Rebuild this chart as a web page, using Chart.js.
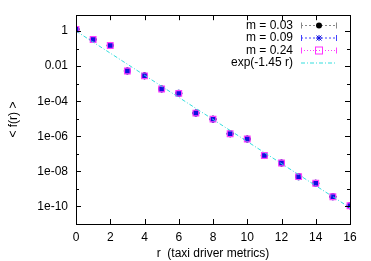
<!DOCTYPE html>
<html>
<head>
<meta charset="utf-8">
<script src="https://cdn.jsdelivr.net/npm/chart.js@4/dist/chart.umd.min.js"></script>
<style>
  body { margin: 0; background: #fff; }
  #plot { display: block; }
</style>
</head>
<body>
<canvas id="plot" width="371" height="261"></canvas>
<script>
// values
const rValues = [0, 1, 2, 3, 4, 5, 6, 7, 8, 9, 10, 11, 12, 13, 14, 15, 16];
const fM003 = [1.25, 0.33, 0.15, 0.0053, 0.0028, 5.0e-4, 2.8e-4, 2.1e-5, 9.5e-6, 1.4e-6, 7.0e-7, 8.0e-8, 3.0e-8, 5.0e-9, 2.1e-9, 3.6e-10, 1.1e-10];
const fM009 = [1.25, 0.33, 0.15, 0.0053, 0.0028, 5.0e-4, 2.8e-4, 2.1e-5, 9.5e-6, 1.4e-6, 7.0e-7, 8.0e-8, 3.0e-8, 5.0e-9, 2.1e-9, 3.6e-10, 1.1e-10];
const fM024 = [1.25, 0.33, 0.15, 0.0053, 0.0028, 5.0e-4, 2.8e-4, 2.1e-5, 9.5e-6, 1.4e-6, 7.0e-7, 8.0e-8, 3.0e-8, 5.0e-9, 2.1e-9, 3.6e-10, 1.1e-10];
const fitR = [0, 16];
const fitF = [1, 8.4e-11];

const xTicks = [0, 2, 4, 6, 8, 10, 12, 14, 16];
const yTicks = [1, 0.01, 1e-4, 1e-6, 1e-8, 1e-10];
const yTickLabels = ['1', '0.01', '1e-04', '1e-06', '1e-08', '1e-10'];
const yMinorTicks = [0.1, 1e-3, 1e-5, 1e-7, 1e-9];

const FONT = 'Liberation Sans, Arial, sans-serif';

function toPoints(xs, ys) {
  return xs.map((x, i) => ({ x: x, y: ys[i] }));
}

const legendItems = [
  { label: 'm = 0.03', color: '#000000', line: '#888888', dash: [2, 2], marker: 'circle' },
  { label: 'm = 0.09', color: '#1010e0', line: '#4040ff', dash: [2, 2], marker: 'star' },
  { label: 'm = 0.24', color: '#ff30ff', line: '#ff40ff', dash: [1, 2], marker: 'rect' },
  { label: 'exp(-1.45 r)', color: '#33dddd', line: '#33dddd', dash: [4, 2, 1, 2], marker: null }
];

// frame, inward ticks and legend, gnuplot style
const framePlugin = {
  id: 'frame',
  afterDraw(chart) {
    const ctx = chart.ctx;
    const a = chart.chartArea;
    const xs = chart.scales.x;
    const ys = chart.scales.y;
    ctx.save();
    ctx.strokeStyle = '#000';
    ctx.lineWidth = 1;
    ctx.setLineDash([]);
    ctx.strokeRect(Math.round(a.left) + 0.5, Math.round(a.top) + 0.5,
      Math.round(a.right - a.left), Math.round(a.bottom - a.top));

    ctx.beginPath();
    xTicks.forEach(v => {
      const px = Math.round(xs.getPixelForValue(v)) + 0.5;
      ctx.moveTo(px, a.bottom); ctx.lineTo(px, a.bottom - 5);
      ctx.moveTo(px, a.top); ctx.lineTo(px, a.top + 5);
    });
    yTicks.forEach(v => {
      const py = Math.round(ys.getPixelForValue(v)) + 0.5;
      ctx.moveTo(a.left, py); ctx.lineTo(a.left + 5, py);
      ctx.moveTo(a.right, py); ctx.lineTo(a.right - 5, py);
    });
    yMinorTicks.forEach(v => {
      const py = Math.round(ys.getPixelForValue(v)) + 0.5;
      ctx.moveTo(a.left, py); ctx.lineTo(a.left + 3, py);
      ctx.moveTo(a.right, py); ctx.lineTo(a.right - 3, py);
    });
    ctx.stroke();

    // legend
    ctx.font = '12px ' + FONT;
    ctx.textAlign = 'right';
    ctx.textBaseline = 'middle';
    legendItems.forEach((item, i) => {
      const y = 25.5 + i * 12.5;
      const x0 = 301, x1 = 337, xm = 319;
      ctx.fillStyle = '#000';
      ctx.fillText(item.label, 293, y);
      ctx.strokeStyle = item.line;
      ctx.setLineDash(item.dash);
      ctx.beginPath();
      ctx.moveTo(x0, y); ctx.lineTo(x1, y);
      ctx.stroke();
      ctx.setLineDash([]);
      if (item.marker) {
        ctx.beginPath();
        ctx.moveTo(x0 + 0.5, y - 3); ctx.lineTo(x0 + 0.5, y + 3);
        ctx.moveTo(x1 - 0.5, y - 3); ctx.lineTo(x1 - 0.5, y + 3);
        ctx.stroke();
        ctx.strokeStyle = item.color;
        ctx.fillStyle = item.color;
        if (item.marker === 'circle') {
          ctx.beginPath(); ctx.arc(xm, y, 3, 0, Math.PI * 2); ctx.fill();
        } else if (item.marker === 'star') {
          ctx.beginPath();
          ctx.moveTo(xm - 3, y); ctx.lineTo(xm + 3, y);
          ctx.moveTo(xm, y - 3); ctx.lineTo(xm, y + 3);
          ctx.moveTo(xm - 2.5, y - 2.5); ctx.lineTo(xm + 2.5, y + 2.5);
          ctx.moveTo(xm - 2.5, y + 2.5); ctx.lineTo(xm + 2.5, y - 2.5);
          ctx.stroke();
        } else {
          ctx.strokeRect(xm - 3.5, y - 3.5, 7, 7);
        }
      }
    });
    ctx.restore();
  }
};

new Chart(document.getElementById('plot'), {
  type: 'scatter',
  data: {
    datasets: [
      {
        label: 'm = 0.03',
        data: toPoints(rValues, fM003),
        pointStyle: 'circle',
        pointRadius: 3,
        backgroundColor: '#000',
        borderColor: '#000',
        borderWidth: 1,
        showLine: false,
        order: 3
      },
      {
        label: 'm = 0.09',
        data: toPoints(rValues, fM009),
        pointStyle: 'star',
        pointRadius: 3.5,
        backgroundColor: '#1010e0',
        borderColor: '#1010e0',
        borderWidth: 2,
        showLine: false,
        order: 2
      },
      {
        label: 'm = 0.24',
        data: toPoints(rValues, fM024),
        pointStyle: 'rect',
        pointRadius: 4,
        backgroundColor: 'rgba(0,0,0,0)',
        borderColor: '#ff40ff',
        borderWidth: 1.2,
        showLine: false,
        order: 1
      },
      {
        label: 'exp(-1.45 r)',
        data: toPoints(fitR, fitF),
        showLine: true,
        pointRadius: 0,
        borderColor: '#33dddd',
        borderWidth: 1,
        borderDash: [4, 2, 1, 2],
        order: 0
      }
    ]
  },
  options: {
    responsive: false,
    animation: false,
    layout: { padding: { top: 15, right: 21, left: 0, bottom: 0 } },
    plugins: {
      legend: { display: false },
      tooltip: { enabled: false }
    },
    scales: {
      x: {
        type: 'linear',
        min: 0,
        max: 16,
        afterFit(scale) { scale.height = 37; },
        afterBuildTicks(scale) { scale.ticks = xTicks.map(v => ({ value: v })); },
        grid: { display: false, drawTicks: false, tickLength: 0 },
        border: { display: false },
        ticks: {
          color: '#000',
          font: { family: FONT, size: 12 },
          padding: 6,
          maxRotation: 0,
          autoSkip: false
        },
        title: {
          display: true,
          text: 'r  (taxi driver metrics)',
          color: '#000',
          font: { family: FONT, size: 12 },
          padding: { top: 0, bottom: 0 }
        }
      },
      y: {
        type: 'logarithmic',
        min: 1e-11,
        max: 8,
        afterFit(scale) { scale.width = 76; },
        afterBuildTicks(scale) { scale.ticks = yTicks.map(v => ({ value: v })); },
        grid: { display: false, drawTicks: false, tickLength: 0 },
        border: { display: false },
        ticks: {
          color: '#000',
          font: { family: FONT, size: 12 },
          padding: 8,
          autoSkip: false,
          callback(value) {
            const i = yTicks.findIndex(t => Math.abs(Math.log10(t) - Math.log10(value)) < 1e-6);
            return i >= 0 ? yTickLabels[i] : '';
          }
        },
        title: {
          display: true,
          text: '< f(r) >',
          color: '#000',
          font: { family: FONT, size: 12 },
          padding: { top: 6, bottom: 0 }
        }
      }
    }
  },
  plugins: [framePlugin]
});
</script>
</body>
</html>
